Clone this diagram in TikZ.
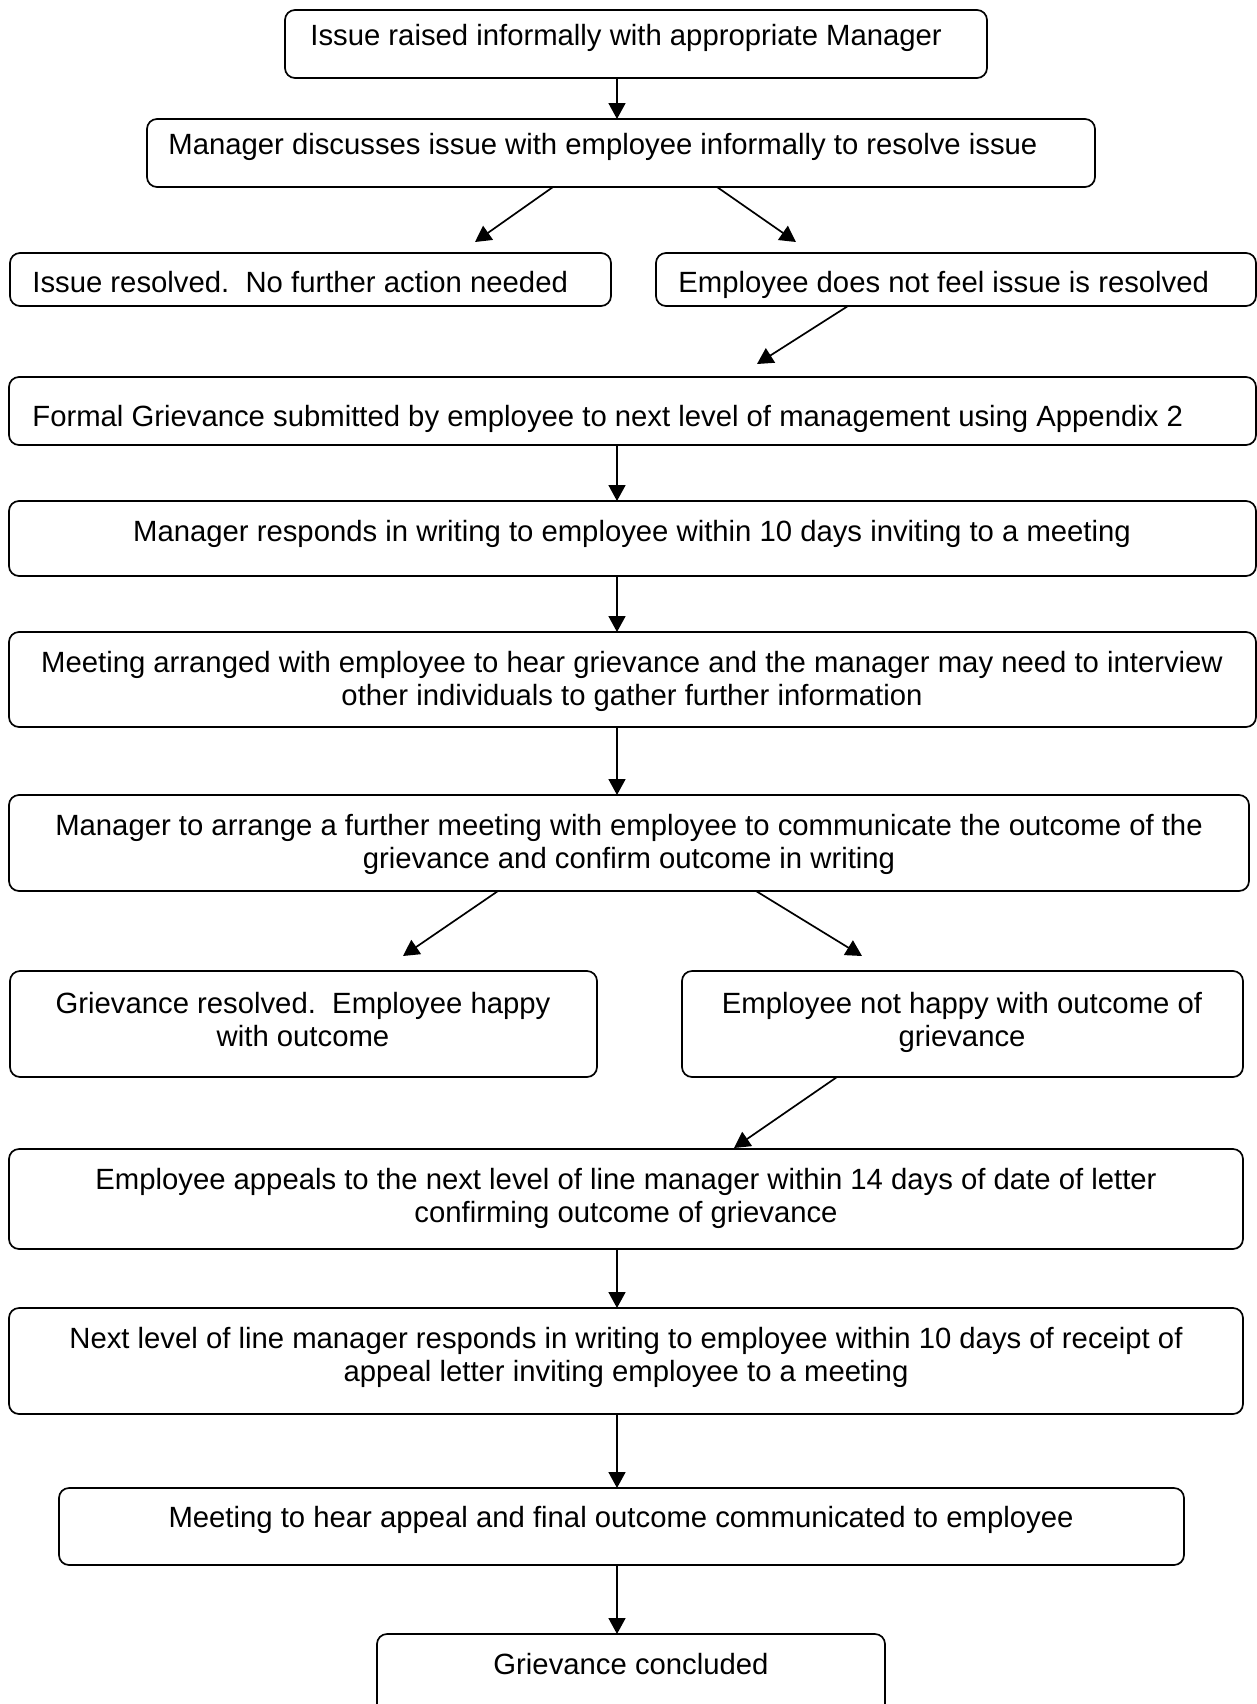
\documentclass[tikz,border=0pt]{standalone}
\usepackage{fontspec}
\setmainfont{Liberation Sans}
\usetikzlibrary{arrows.meta}
\begin{document}
\begin{tikzpicture}[x=0.5pt,y=-0.5pt,
  box/.style={draw=black, line width=0.85pt, rounded corners=5pt, anchor=north west,
              inner sep=0pt, outer sep=0pt},
  txt/.style={font=\fontsize{14.64pt}{16.75pt}\selectfont, inner sep=0pt, align=center},
  arr/.style={line width=0.85pt, -{Triangle[length=8pt,width=8.5pt]}}]
\useasboundingbox (0,0) rectangle (1257,1704);
\clip (0,0) rectangle (1257,1704);

% boxes
\node[box, minimum width=351pt,   minimum height=34pt]   (b1)  at (285,10)   {};
\node[box, minimum width=474pt,   minimum height=34pt]   (b2)  at (147,119)  {};
\node[box, minimum width=300.5pt, minimum height=26.5pt] (b3a) at (10,253)   {};
\node[box, minimum width=300pt,   minimum height=26.5pt] (b3b) at (656,253)  {};
\node[box, minimum width=623.5pt, minimum height=34pt]   (b4)  at (9,377)    {};
\node[box, minimum width=623.5pt, minimum height=37.5pt] (b5)  at (9,501)    {};
\node[box, minimum width=623.5pt, minimum height=47.5pt] (b6)  at (9,632)    {};
\node[box, minimum width=620pt,   minimum height=48pt]   (b7)  at (9,795)    {};
\node[box, minimum width=293.5pt, minimum height=53pt]   (b8a) at (10,971)   {};
\node[box, minimum width=280.5pt, minimum height=53pt]   (b8b) at (682,971)  {};
\node[box, minimum width=617pt,   minimum height=50pt]   (b9)  at (9,1149)   {};
\node[box, minimum width=617pt,   minimum height=53pt]   (b10) at (9,1308)   {};
\node[box, minimum width=562.5pt, minimum height=38.5pt] (b11) at (59,1488)  {};
\node[box, minimum width=254pt,   minimum height=43pt]   (b12) at (377,1634) {};

% texts (anchor=base: baseline of the last line)
\node[txt, anchor=base west] (t1)  at (310,45)  {Issue raised informally with appropriate Manager};
\node[txt, anchor=base west] (t2)  at (168,154) {Manager discusses issue with employee informally to resolve issue};
\node[txt, anchor=base west] (t3a) at (32,292)  {Issue resolved.\ \ No further action needed};
\node[txt, anchor=base west] (t3b) at (678,292) {Employee does not feel issue is resolved};
\node[txt, anchor=base west] (t4)  at (32,426)  {Formal Grievance submitted by employee to next level of management using Appendix 2};
\node[txt, anchor=base] (t5)  at (632,541)  {Manager responds in writing to employee within 10 days inviting to a meeting};
\node[txt, anchor=base] (t6)  at (632,705.5) {Meeting arranged with employee to hear grievance and the manager may need to interview\\other individuals to gather further information};
\node[txt, anchor=base] (t7)  at (629,868.5) {Manager to arrange a further meeting with employee to communicate the outcome of the\\grievance and confirm outcome in writing};
\node[txt, anchor=base] (t8a) at (303,1046.5) {Grievance resolved.\ \ Employee happy\\with outcome};
\node[txt, anchor=base] (t8b) at (962,1046.5) {Employee not happy with outcome of\\grievance};
\node[txt, anchor=base] (t9)  at (626,1222.5) {Employee appeals to the next level of line manager within 14 days of date of letter\\confirming outcome of grievance};
\node[txt, anchor=base] (t10) at (626,1381.5) {Next level of line manager responds in writing to employee within 10 days of receipt of\\appeal letter inviting employee to a meeting};
\node[txt, anchor=base] (t11) at (621,1527) {Meeting to hear appeal and final outcome communicated to employee};
\node[txt, anchor=base] (t12) at (631,1674) {Grievance concluded};

% helper coordinates
\coordinate (cx) at (617,0);
\coordinate (d1e) at (475,242);
\coordinate (d2e) at (796,242);
\coordinate (d3e) at (757,364);
\coordinate (d4e) at (403,956);
\coordinate (d5e) at (862,956);
\coordinate (d6e) at (734,1148);

% vertical connectors
\draw[arr] (cx |- b1.south)  -- (cx |- b2.north);
\draw[arr] (cx |- b4.south)  -- (cx |- b5.north);
\draw[arr] (cx |- b5.south)  -- (cx |- b6.north);
\draw[arr] (cx |- b6.south)  -- (cx |- b7.north);
\draw[arr] (cx |- b9.south)  -- (cx |- b10.north);
\draw[arr] (cx |- b10.south) -- (cx |- b11.north);
\draw[arr] (cx |- b11.south) -- (cx |- b12.north);

% diagonal connectors
\draw[arr] ([shift={(406,0)}]b2.south west)  -- (d1e);
\draw[arr] ([shift={(570,0)}]b2.south west)  -- (d2e);
\draw[arr] ([shift={(192,0)}]b3b.south west) -- (d3e);
\draw[arr] ([shift={(489,0)}]b7.south west)  -- (d4e);
\draw[arr] ([shift={(747,0)}]b7.south west)  -- (d5e);
\draw[arr] ([shift={(155,0)}]b8b.south west) -- (d6e);
\end{tikzpicture}
\end{document}
